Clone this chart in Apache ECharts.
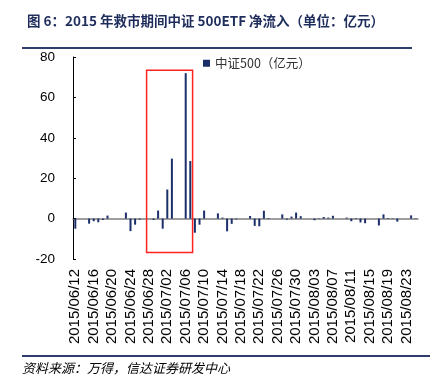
<!DOCTYPE html>
<html>
<head>
<meta charset="utf-8">
<script src="https://cdn.jsdelivr.net/npm/echarts@6/dist/echarts.min.js"></script>
<style>
  html, body { margin: 0; padding: 0; background: #fff; }
  #chart { width: 435px; height: 391px; }
</style>
</head>
<body>
<div id="chart"></div>
<script>
// 交易日与净流入（亿元）
var tradeDates = ['06/12', '06/15', '06/16', '06/17', '06/18', '06/19', '06/23', '06/24', '06/25', '06/26',
    '06/29', '06/30', '07/01', '07/02', '07/03', '07/06', '07/07', '07/08', '07/09', '07/10',
    '07/13', '07/14', '07/15', '07/16', '07/17', '07/20', '07/21', '07/22', '07/23', '07/24',
    '07/27', '07/28', '07/29', '07/30', '07/31', '08/03', '08/04', '08/05', '08/06', '08/07',
    '08/10', '08/11', '08/12', '08/13', '08/14', '08/17', '08/18', '08/19', '08/20', '08/21',
    '08/24', '08/25'];
var flows = [-5, -2.5, -1.3, -1.8, -0.7, 1.5, 3, -6.2, -3, -0.5,
    -0.7, 4, -5, 14.4, 29.7, 72, 28.5, -7, -3, 4,
    2.6, 0.5, -6.3, -2.6, -0.4, 1.3, -3.6, -3.8, 3.9, 0.3,
    2.1, -0.5, 1, 3, 1.2, -0.8, 0.2, 0.8, 0.5, 1.4,
    0.5, -1.3, 0.3, -1.9, -2.3, -3.4, 2.1, 0.3, 0.2, -1.5,
    1.6, 0.2];
var yTicks = [-20, 0, 20, 40, 60, 80];

// 日期轴（含周末）
var axisDates = [];
var flowByDay = [];
var d = new Date(2015, 5, 12);
var end = new Date(2015, 7, 25);
while (d <= end) {
    var mm = ('0' + (d.getMonth() + 1)).slice(-2);
    var dd = ('0' + d.getDate()).slice(-2);
    var key = mm + '/' + dd;
    axisDates.push('2015/' + key);
    var idx = tradeDates.indexOf(key);
    flowByDay.push(idx >= 0 ? flows[idx] : '-');
    d.setDate(d.getDate() + 1);
}

var chart = echarts.init(document.getElementById('chart'));
var option = {
    animation: false,
    title: {
        text: '图 6：2015 年救市期间中证 500ETF 净流入（单位：亿元）',
        left: 22,
        top: 9,
        textStyle: {
            fontFamily: 'Noto Sans CJK SC',
            fontSize: 13.5,
            fontWeight: 'bold',
            color: '#1f2d5c'
        }
    },
    legend: {
        data: ['中证500（亿元）'],
        left: 198,
        top: 52,
        icon: 'rect',
        itemWidth: 7,
        itemHeight: 7,
        itemGap: 4,
        textStyle: {
            fontFamily: 'Noto Sans CJK SC',
            fontSize: 12.5,
            color: '#333'
        }
    },
    grid: { left: 73, right: 17, top: 57, bottom: 132 },
    xAxis: {
        type: 'category',
        data: axisDates,
        axisLine: { onZero: true, lineStyle: { color: '#7f7f7f', width: 1.5 } },
        axisTick: { show: false },
        axisLabel: {
            interval: 3,
            rotate: 90,
            fontFamily: 'Liberation Sans',
            fontSize: 15,
            color: '#000',
            margin: 10
        }
    },
    yAxis: {
        type: 'value',
        min: yTicks[0],
        max: yTicks[yTicks.length - 1],
        interval: 20,
        axisLine: { show: true, lineStyle: { color: '#000', width: 1 } },
        axisTick: { show: true, inside: true, length: 3, lineStyle: { color: '#000' } },
        splitLine: { show: false },
        axisLabel: {
            fontFamily: 'Liberation Sans',
            fontSize: 13.5,
            color: '#000',
            margin: 18
        }
    },
    series: [{
        name: '中证500（亿元）',
        type: 'bar',
        data: flowByDay,
        barWidth: 2,
        itemStyle: { color: '#1b2f6b' },
        markArea: {
            silent: true,
            itemStyle: { color: 'rgba(0,0,0,0)', borderColor: '#ff2020', borderWidth: 1.5 },
            data: [[{ xAxis: '2015/06/28', yAxis: 73.5 }, { xAxis: '2015/07/07', yAxis: -16.8 }]]
        }
    }],
    graphic: [
        { type: 'line', shape: { x1: 22, y1: 48, x2: 412, y2: 48 }, style: { stroke: '#2e3d6b', lineWidth: 2 } },
        { type: 'line', shape: { x1: 22, y1: 356, x2: 430, y2: 356 }, style: { stroke: '#2e3d6b', lineWidth: 2 } },
        {
            type: 'text', left: 22, top: 362,
            style: {
                text: '资料来源：万得，信达证券研发中心',
                font: 'italic 13px "Noto Sans CJK SC"',
                fill: '#000'
            }
        }
    ]
};
chart.setOption(option);
</script>
</body>
</html>
